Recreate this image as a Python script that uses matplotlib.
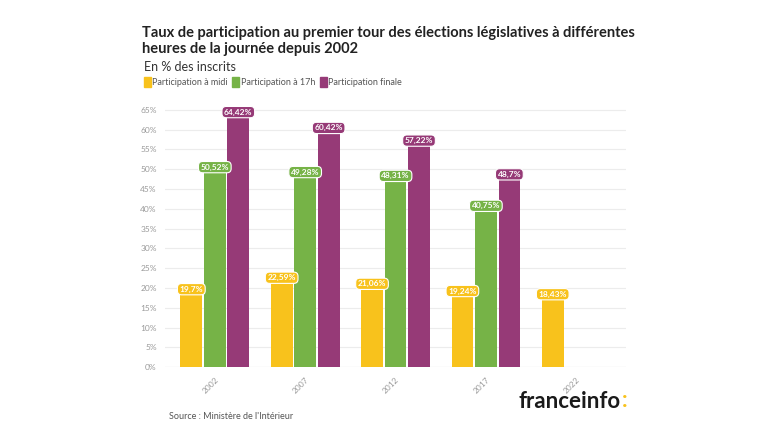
import matplotlib
matplotlib.use("Agg")
import matplotlib.pyplot as plt
import numpy as np

years = ["2002", "2007", "2012", "2017", "2022"]
midi = [19.70, 22.59, 21.06, 19.24, 18.43]
h17 = [50.52, 49.28, 48.31, 40.75, None]
finale = [64.42, 60.42, 57.22, 48.70, None]
series_names = ["Participation à midi", "Participation à 17h", "Participation finale"]
colors = ["#f8c21c", "#76b347", "#963a77"]
yticks = list(range(0, 70, 5))

plt.rcParams['font.family'] = ['Lato', 'DejaVu Sans']

fig = plt.figure(figsize=(7.68, 4.32), dpi=100)
ax = fig.add_axes([0.215, 0.15, 0.60, 0.605])

x = np.arange(len(years))
w = 0.24
offs = [-0.26, 0.0, 0.26]
for vals, off, c in zip([midi, h17, finale], offs, colors):
    xs = [xi + off for xi, v in zip(x, vals) if v is not None]
    vs = [v for v in vals if v is not None]
    ax.bar(xs, vs, width=w, color=c, zorder=3)
    for xi, v in zip(xs, vs):
        lbl = f"{v:.2f}".rstrip("0").rstrip(".").replace(".", ",") + "%"
        ax.text(xi, v, lbl, ha="center", va="center", fontsize=6, color="white",
                fontweight="bold", zorder=5,
                bbox=dict(boxstyle="round,pad=0.25,rounding_size=0.5", fc=c, ec="white", lw=0.8))

ax.set_xlim(-0.55, len(years) - 0.45)
ax.set_ylim(0, 66)
ax.set_yticks(yticks)
ax.set_yticklabels([f"{t}%" for t in yticks], fontsize=6, color="#9a9a9a")
ax.set_xticks(x)
ax.set_xticklabels(years, rotation=45, fontsize=6, color="#9a9a9a", ha="right", rotation_mode="anchor")
ax.tick_params(length=0, pad=6)
ax.grid(axis="y", color="#ececec", lw=0.8, zorder=0)
for s in ax.spines.values():
    s.set_visible(False)
ax.axhline(0, color="#dddddd", lw=0.8, zorder=2)

fig.text(0.185, 0.905, "Taux de participation au premier tour des élections législatives à différentes\nheures de la journée depuis 2002",
         fontsize=10.5, fontweight="bold", color="#222222", va="center", ha="left", linespacing=1.2)
fig.text(0.187, 0.845, "En % des inscrits", fontsize=9, color="#333333", va="center")

lx = 0.187
ly = 0.81
for name, c in zip(series_names, colors):
    fig.patches.append(matplotlib.patches.Rectangle((lx, ly - 0.012), 0.009, 0.024, transform=fig.transFigure, color=c))
    t = fig.text(lx + 0.011, ly, name, fontsize=6.5, color="#555555", va="center")
    fig.canvas.draw()
    bb = t.get_window_extent().transformed(fig.transFigure.inverted())
    lx = bb.x1 + 0.006

fig.text(0.22, 0.035, "Source : Ministère de l'Intérieur", fontsize=6.5, color="#555555", va="center")
logo = fig.text(0.675, 0.07, "franceinfo", fontsize=16, fontweight="bold", color="#1a1a1a", va="center")
fig.canvas.draw()
lb = logo.get_window_extent().transformed(fig.transFigure.inverted())
fig.text(lb.x1 + 0.002, 0.073, ":", fontsize=16, fontweight="bold", color="#f8c21c", va="center")

fig.savefig("out.png", dpi=100, facecolor="white")
